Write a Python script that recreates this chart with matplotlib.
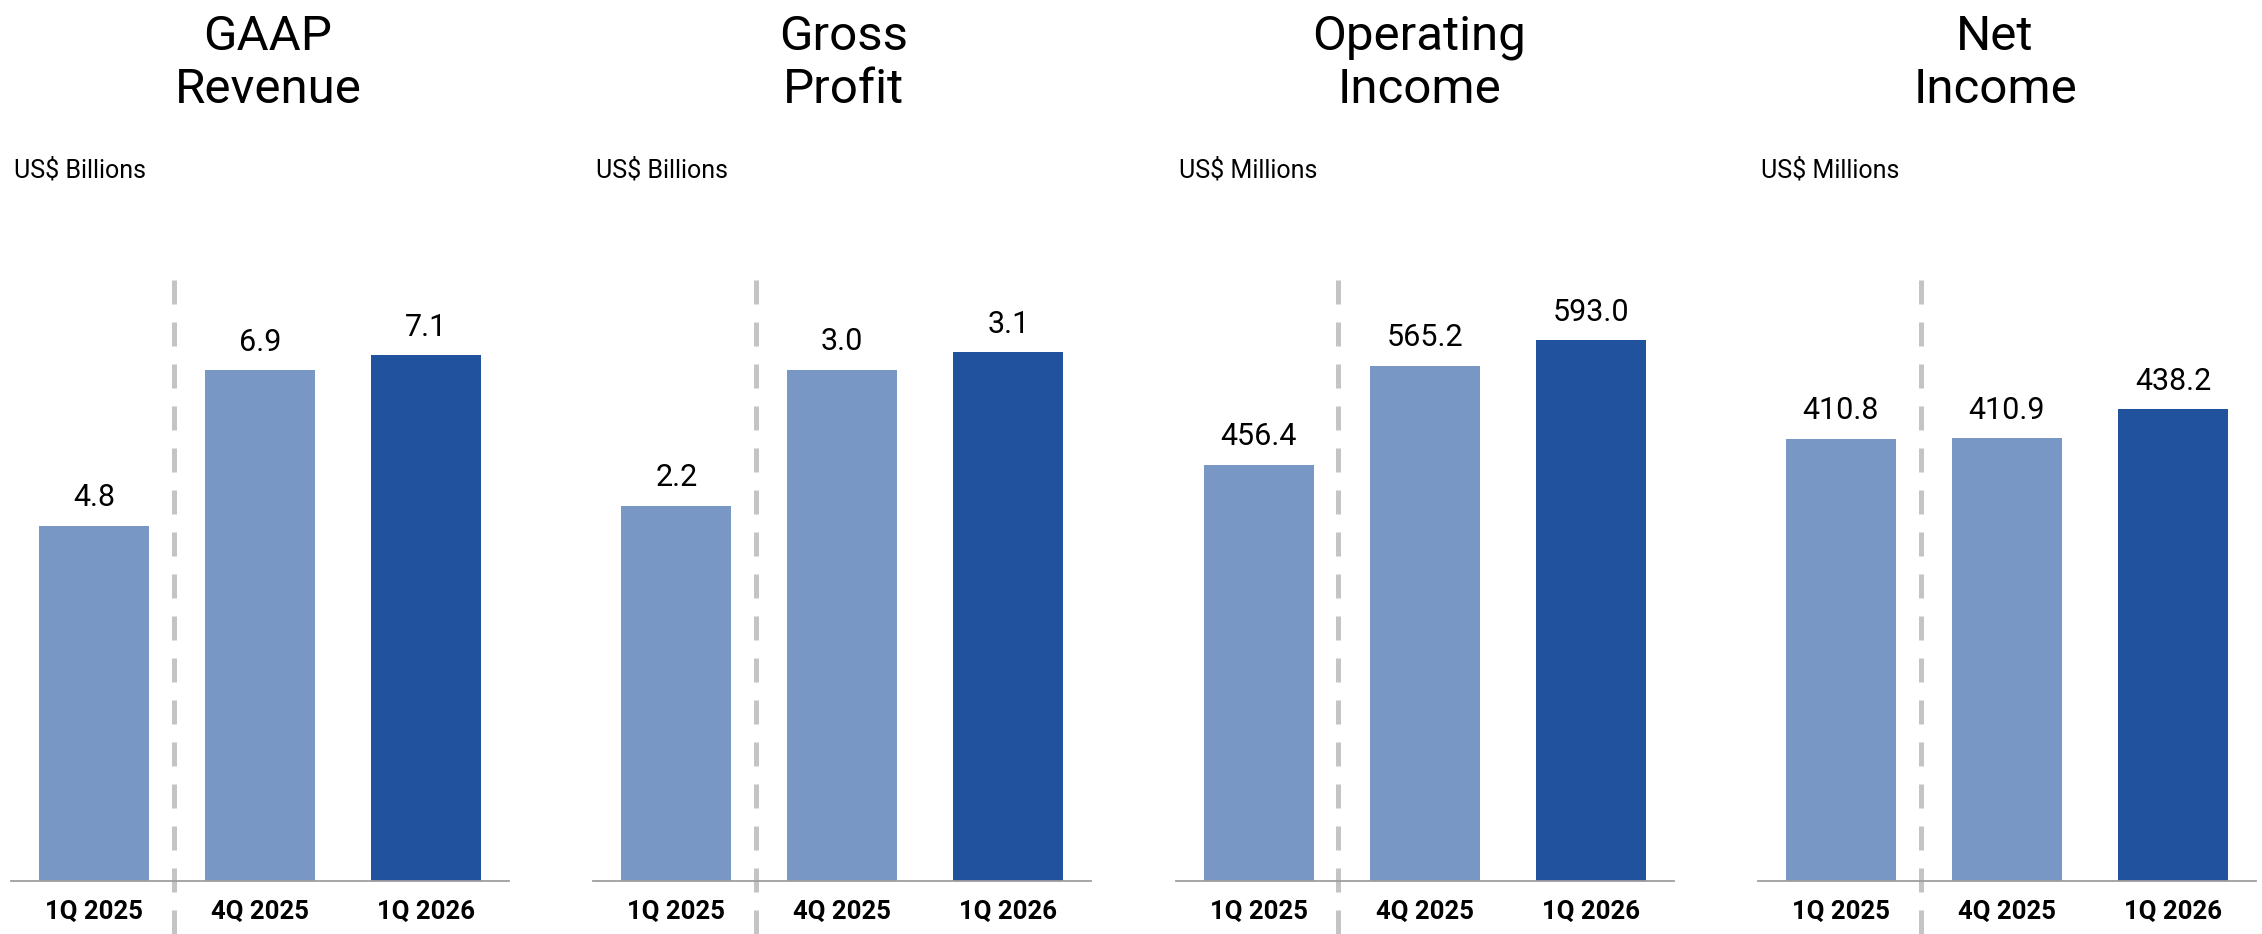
import matplotlib
matplotlib.use('Agg')
import matplotlib.pyplot as plt

plt.rcParams['font.family'] = ['Roboto', 'DejaVu Sans']

# Quarterly results, one panel per metric
quarters = ['1Q 2025', '4Q 2025', '1Q 2026']
metrics = ['GAAP\nRevenue', 'Gross\nProfit', 'Operating\nIncome', 'Net\nIncome']
units = ['US$ Billions', 'US$ Billions', 'US$ Millions', 'US$ Millions']

revenue = [4.8, 6.9, 7.1]
gross_profit = [2.2, 3.0, 3.1]
operating_income = [456.4, 565.2, 593.0]
net_income = [410.8, 410.9, 438.2]
series = [revenue, gross_profit, operating_income, net_income]

# each panel keeps its own vertical scale
y_tops = [8.12, 3.525, 659, 558]

LIGHT = '#7897c5'
DARK = '#21529e'
bar_colors = [LIGHT, LIGHT, DARK]

W, H = 2262, 934
fig = plt.figure(figsize=(W / 100, H / 100), dpi=100)

for i, (title, unit, values) in enumerate(zip(metrics, units, series)):
    left = 11 + 582.3 * i
    ax = fig.add_axes([left / W, 53 / H, 498 / W, 601 / H])

    x = range(len(quarters))
    ax.bar(x, values, width=0.663, color=bar_colors)
    ax.set_xlim(-0.5, 2.5)
    ax.set_ylim(0, y_tops[i])

    for xi, v in zip(x, values):
        ax.annotate(f'{v:.1f}', (xi, v), xytext=(0, 14),
                    textcoords='offset points', ha='center', va='baseline',
                    fontsize=22)

    # separator between prior year and recent quarters
    ax.plot([0.48, 0.48], [1, -0.088], transform=ax.get_xaxis_transform(),
            color='#c4c4c4', lw=3.6, dashes=(4.8, 3.6), clip_on=False,
            zorder=0)

    ax.set_xticks(list(x))
    ax.set_xticklabels(quarters, fontsize=18.5, fontweight='bold')
    ax.tick_params(axis='x', length=0, pad=14)
    ax.set_yticks([])
    for side in ['top', 'right', 'left']:
        ax.spines[side].set_visible(False)
    ax.spines['bottom'].set_color('#9e9e9e')
    ax.spines['bottom'].set_linewidth(1.3)

    # two-line heading; baseline given for the second line
    cx = (268 + 575.7 * i) / W
    fig.text(cx, 1 - 103 / H, title, ha='center', va='baseline',
             fontsize=35.5, linespacing=1.2)
    fig.text((left + 3) / W, 1 - 177 / H, unit, ha='left', va='baseline',
             fontsize=18)

fig.savefig('out.png', dpi=100)
